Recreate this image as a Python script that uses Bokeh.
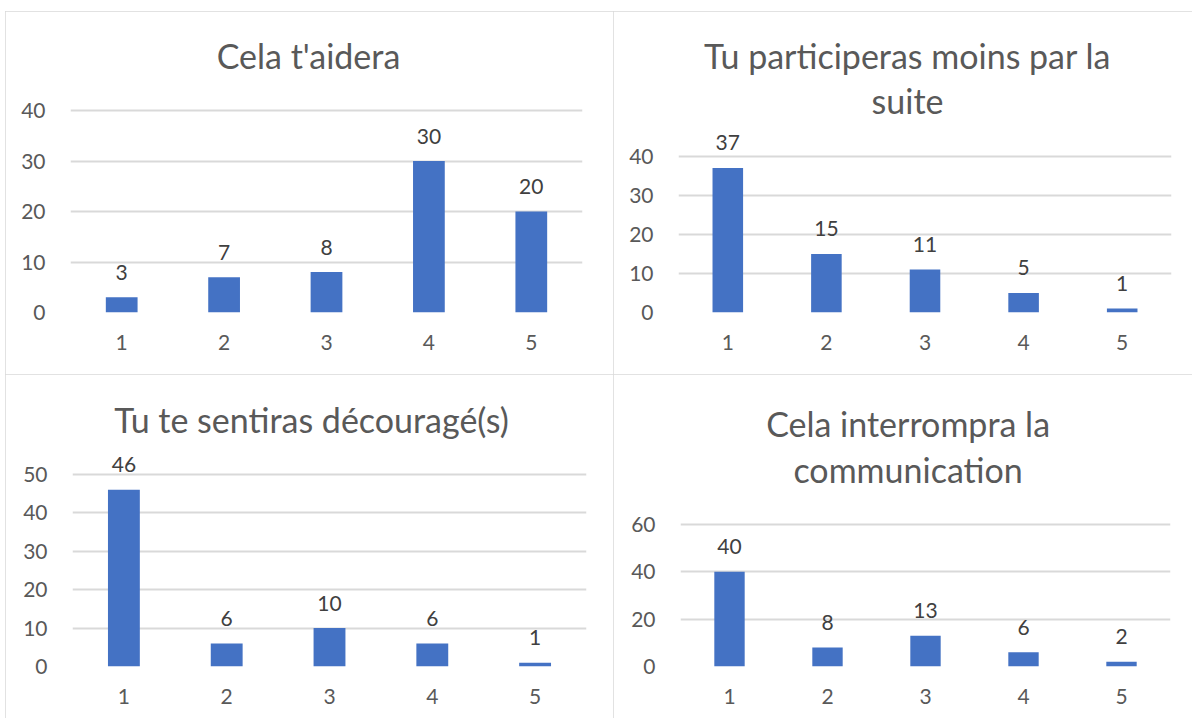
from bokeh.plotting import figure
from bokeh.layouts import row, column
from bokeh.models import Range1d, FactorRange, FixedTicker, Label, ColumnDataSource, Spacer
from bokeh.core.properties import value
from bokeh.embed import file_html
from bokeh.resources import INLINE

# ---------------- data ----------------
categories = ["1", "2", "3", "4", "5"]

title_aidera = ["Cela t'aidera"]
title_participeras = ["Tu participeras moins par la", "suite"]
title_decourage = ["Tu te sentiras découragé(s)"]
title_interrompra = ["Cela interrompra la", "communication"]

values_aidera = [3, 7, 8, 30, 20]
values_participeras = [37, 15, 11, 5, 1]
values_decourage = [46, 6, 10, 6, 1]
values_interrompra = [40, 8, 13, 6, 2]

y_ticks_aidera = [0, 10, 20, 30, 40]
y_ticks_participeras = [0, 10, 20, 30, 40]
y_ticks_decourage = [0, 10, 20, 30, 40, 50]
y_ticks_interrompra = [0, 20, 40, 60]

# ---------------- style ----------------
FONT = "Lato"
BAR = "#4472C4"
TXT = "#595959"
LBL = "#404040"
GRID = "#D9D9D9"
TICK_SIZE = "21px"
TITLE_SIZE = "34px"


def panel(title_lines, vals, yticks, fig, frame_lr, zero_y, topgrid_y, title_cx, centers, clip):
    fx0, fy0, fw, fh = fig
    fl, fr = frame_lr
    frame_top = fy0 + 3
    top_tick = yticks[-1]
    ppu = (zero_y - topgrid_y) / top_tick
    y_end = (zero_y - frame_top) / ppu

    p = figure(width=fw, height=fh, x_range=FactorRange(factors=categories),
               y_range=Range1d(0, y_end), output_backend="svg",
               toolbar_location=None, title=None,
               min_border_left=int(round(fl - fx0)),
               min_border_right=int(round(fx0 + fw - fr)),
               min_border_top=int(round(frame_top - fy0)),
               min_border_bottom=int(round(fy0 + fh - zero_y)))
    p.outline_line_color = None
    p.background_fill_color = "white"
    p.border_fill_color = "white"
    p.styles = {"outline": "2px solid #D9D9D9", "outline-offset": "-2px",
                "clip-path": clip}

    p.xgrid.grid_line_color = None
    p.ygrid.ticker = FixedTicker(ticks=yticks)
    p.ygrid.grid_line_color = GRID
    p.ygrid.grid_line_width = 1.8

    p.yaxis.ticker = FixedTicker(ticks=yticks)
    for ax in (p.xaxis[0], p.yaxis[0]):
        ax.axis_line_color = None
        ax.major_tick_line_color = None
        ax.minor_tick_line_color = None
        ax.major_label_text_font = FONT
        ax.major_label_text_font_size = TICK_SIZE
        ax.major_label_text_color = TXT
    p.yaxis.major_label_standoff = 19
    p.xaxis.major_label_standoff = 16
    p.x_range.range_padding = 0

    src = ColumnDataSource(dict(x=categories, top=vals, label=[str(v) for v in vals]))
    p.vbar(x="x", top="top", width=0.31, source=src, fill_color=BAR, line_color=None)
    p.text(x="x", y="top", text="label", source=src, text_align="center",
           text_baseline="middle", y_offset=-25, text_font=value(FONT),
           text_font_size=TICK_SIZE, text_color=LBL)

    tx = (title_cx - fl) / (fr - fl) * len(categories)
    for line, c in zip(title_lines, centers):
        p.add_layout(Label(x=tx, y=(zero_y - c) / ppu, text=line, text_align="center",
                           text_baseline="middle", text_font=FONT,
                           text_font_size=TITLE_SIZE, text_color=TXT))
    return p


p1 = panel(title_aidera, values_aidera, y_ticks_aidera,
           (5, 11, 608, 363), (70, 582), 312, 110, 308, [55], "none")
p2 = panel(title_participeras, values_participeras, y_ticks_participeras,
           (613, 11, 581, 363), (678, 1171), 312, 155.7, 907, [55, 100],
           "inset(0px 2px 0px 0px)")
p3 = panel(title_decourage, values_decourage, y_ticks_decourage,
           (5, 374, 608, 346), (72, 586), 666.7, 474, 311, [419],
           "inset(0px 0px 2px 0px)")
p4 = panel(title_interrompra, values_interrompra, y_ticks_interrompra,
           (613, 374, 581, 346), (680, 1170), 665.7, 523.7, 907.6, [423, 469],
           "inset(0px 2px 2px 0px)")

layout = column(Spacer(height=11, width=10),
                row(Spacer(width=5, height=10), p1, p2),
                row(Spacer(width=5, height=10), p3, p4))

open("out.html", "w").write(file_html(layout, INLINE))
